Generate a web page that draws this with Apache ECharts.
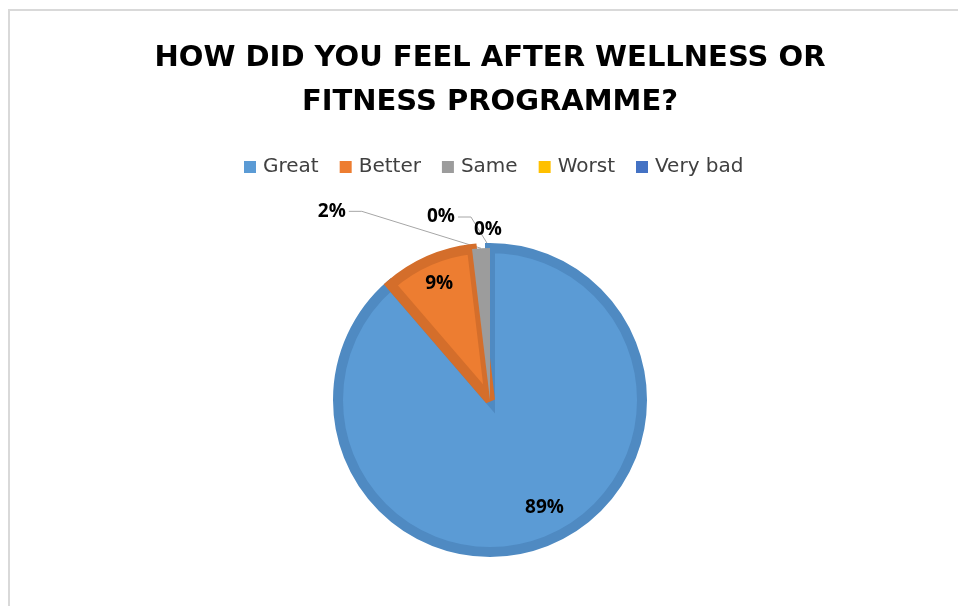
<!DOCTYPE html>
<html>
<head>
<meta charset="utf-8">
<script src="https://cdn.jsdelivr.net/npm/echarts@6/dist/echarts.min.js"></script>
<style>
  html, body { margin: 0; padding: 0; background: #ffffff; overflow: hidden; width: 958px; height: 606px; }
  #frame { position: absolute; left: 8px; top: 9px; width: 980px; height: 620px; border-left: 2px solid #d9d9d9; border-top: 2px solid #d9d9d9; pointer-events: none; }
  #chart { position: absolute; left: 10px; top: 11px; width: 960px; height: 600px; }
</style>
</head>
<body>
<div id="chart"></div>
<div id="frame"></div>
<script>
const titleText = 'HOW DID YOU FEEL AFTER WELLNESS OR\nFITNESS PROGRAMME?';
const categories = ['Great', 'Better', 'Same', 'Worst', 'Very bad'];
const counts = [47, 5, 1, 0, 0];
const fillColors = ['#5B9BD5', '#ED7D31', '#9C9C9C', '#FFC000', '#4472C4'];
const edgeColors = ['#4F8AC2', '#D46E2B', '#949494', '#E6AC00', '#3C65B0'];
const edgeWidths = [10, 10, 0, 0, 0];

const TITLE_FONT = '"DejaVu Sans", "Open Sans", sans-serif';
const FONT = '"Open Sans", "Liberation Sans", sans-serif';

// label placement tweaks (offsets only; anchors come from the pie layout)
const labelTweaks = [
  { position: 'inside', dx: 27, dy: 34 },
  { position: 'inside', dx: -19, dy: -44 },
  { position: 'outside', length: 37, length2: 128, guide: true, dx: 0, dy: 0 },
  { position: 'outside', length: 8, length2: 14, guide: true, dx: -82, dy: -23 },
  { position: 'outside', length: 0, length2: 0, noLine: true, dx: -21, dy: -18 }
];

const data = categories.map((name, i) => {
  const t = labelTweaks[i];
  const item = {
    name: name,
    value: counts[i],
    itemStyle: { color: fillColors[i], borderColor: edgeColors[i], borderWidth: edgeWidths[i] },
    label: { position: t.position }
  };
  if (t.position === 'outside') {
    item.labelLine = { show: !t.noLine, length: t.length, length2: t.length2 };
  }
  return item;
});

const chart = echarts.init(document.getElementById('chart'), null, { renderer: 'canvas' });
chart.setOption({
  animation: false,
  backgroundColor: 'transparent',
  title: {
    text: titleText,
    left: 'center',
    top: 20,
    textStyle: { fontFamily: TITLE_FONT, fontSize: 29, fontWeight: 'bold', color: '#000000', lineHeight: 44 }
  },
  legend: {
    data: categories,
    top: 141,
    left: 229,
    itemWidth: 12,
    itemHeight: 12,
    itemGap: 21,
    icon: 'rect',
    itemStyle: { borderWidth: 0 },
    textStyle: { fontFamily: TITLE_FONT, fontSize: 20, color: '#404040', padding: [0, 0, 0, 2] }
  },
  series: [{
    type: 'pie',
    center: [480, 389],
    radius: 152,
    startAngle: 90,
    clockwise: true,
    percentPrecision: 0,
    avoidLabelOverlap: false,
    minShowLabelAngle: 0,
    itemStyle: { borderJoin: 'miter', borderMiterLimit: 3 },
    label: {
      show: true,
      formatter: '{d}%',
      fontFamily: FONT,
      fontSize: 19,
      fontWeight: 'bold',
      color: '#000000'
    },
    labelLine: { lineStyle: { color: '#a6a6a6', width: 1 }, smooth: false },
    labelLayout: function (p) {
      const t = labelTweaks[p.dataIndex];
      if (!t || t.dx === undefined) return {};
      const out = { dx: t.dx, dy: t.dy };
      if (t.guide && p.labelLinePoints && p.labelRect) {
        const anchor = p.labelLinePoints[0];
        const r = p.labelRect;
        const right = r.x + r.width + t.dx;
        const cy = r.y + r.height / 2 + t.dy;
        out.labelLinePoints = [
          [anchor[0], anchor[1]],
          [right + 16, cy],
          [right + 3, cy]
        ];
      }
      return out;
    },
    emphasis: { disabled: true },
    data: data
  }]
});
</script>
</body>
</html>
